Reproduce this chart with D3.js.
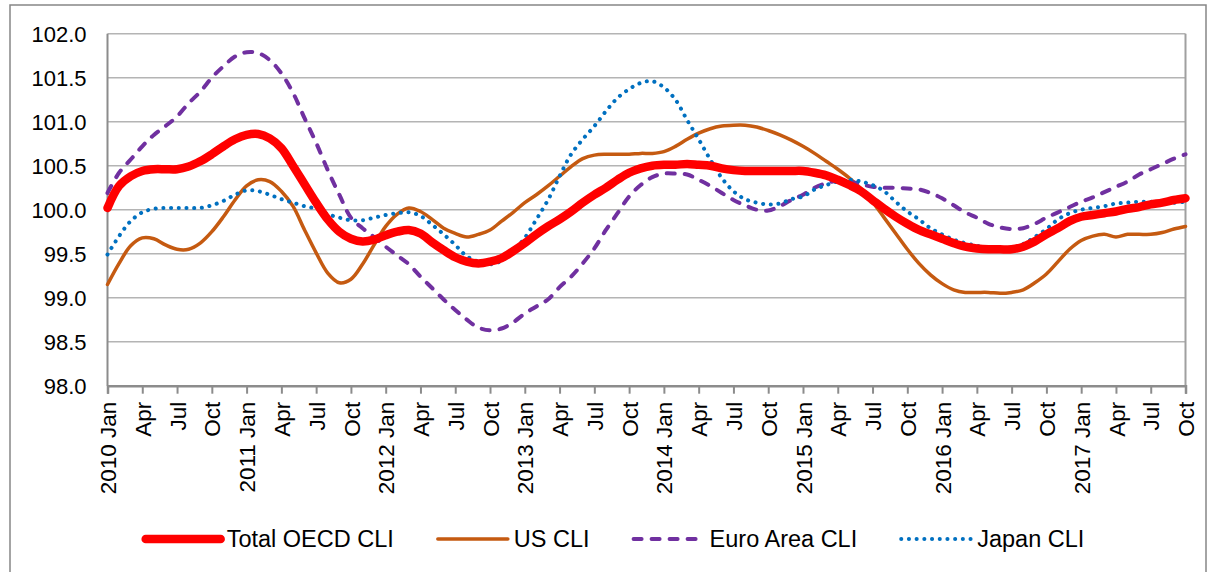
<!DOCTYPE html>
<html><head><meta charset="utf-8">
<script src="https://cdn.jsdelivr.net/npm/d3@7"></script>
<style>
html,body{margin:0;padding:0;background:#fff;}
svg{display:block;}
text{font-family:"Liberation Sans",Arial,sans-serif;fill:#000;}
</style></head>
<body><svg id="chart" width="1208" height="572"></svg>
<script>
// ---- data ----
const startYear = 2010;
const monthNames = ["Jan","Feb","Mar","Apr","May","Jun","Jul","Aug","Sep","Oct","Nov","Dec"];
const categories = [];
for (let i = 0; i < 94; i++) categories.push((startYear + Math.floor(i / 12)) + " " + monthNames[i % 12]);

const oecd = [100.02,100.27,100.38,100.44,100.46,100.46,100.46,100.49,100.55,100.63,100.72,100.80,
100.85,100.86,100.81,100.70,100.50,100.29,100.08,99.89,99.75,99.67,99.64,99.66,
99.71,99.75,99.77,99.73,99.63,99.54,99.46,99.41,99.39,99.41,99.45,99.53,
99.62,99.72,99.81,99.89,99.98,100.08,100.17,100.25,100.34,100.42,100.47,100.50,
100.51,100.51,100.52,100.51,100.50,100.47,100.45,100.44,100.44,100.44,100.44,100.44,
100.44,100.42,100.39,100.34,100.28,100.21,100.11,100.01,99.92,99.84,99.77,99.72,
99.67,99.62,99.58,99.56,99.55,99.55,99.55,99.58,99.64,99.72,99.79,99.87,
99.92,99.94,99.96,99.98,100.01,100.03,100.06,100.08,100.11,100.13];

const us = [99.15,99.39,99.59,99.68,99.67,99.60,99.55,99.55,99.62,99.75,99.92,100.11,
100.27,100.34,100.32,100.21,100.04,99.77,99.51,99.28,99.17,99.21,99.38,99.60,
99.81,99.95,100.02,99.98,99.89,99.79,99.73,99.69,99.72,99.77,99.87,99.97,
100.08,100.17,100.27,100.38,100.49,100.58,100.62,100.63,100.63,100.63,100.64,100.64,
100.66,100.72,100.80,100.87,100.92,100.95,100.96,100.96,100.94,100.90,100.85,100.79,
100.72,100.64,100.55,100.46,100.36,100.24,100.09,99.91,99.73,99.55,99.39,99.26,
99.16,99.09,99.06,99.06,99.06,99.05,99.06,99.09,99.17,99.27,99.41,99.55,
99.65,99.70,99.72,99.69,99.72,99.72,99.72,99.74,99.78,99.81];

const euro = [100.19,100.42,100.57,100.72,100.85,100.95,101.06,101.21,101.34,101.50,101.63,101.74,
101.79,101.78,101.70,101.55,101.33,101.04,100.76,100.45,100.17,99.91,99.79,99.69,
99.58,99.48,99.38,99.24,99.11,98.98,98.86,98.75,98.66,98.63,98.65,98.72,
98.82,98.90,98.98,99.12,99.24,99.39,99.56,99.77,99.96,100.15,100.28,100.37,
100.41,100.41,100.40,100.34,100.27,100.19,100.11,100.05,100.00,99.99,100.04,100.11,
100.17,100.25,100.30,100.33,100.32,100.29,100.26,100.25,100.25,100.24,100.23,100.19,
100.13,100.05,99.97,99.91,99.84,99.80,99.78,99.79,99.84,99.91,99.97,100.03,
100.09,100.14,100.20,100.26,100.32,100.40,100.46,100.52,100.58,100.63];

const japan = [99.49,99.70,99.87,99.97,100.01,100.02,100.02,100.02,100.02,100.05,100.10,100.17,
100.22,100.21,100.17,100.12,100.08,100.04,100.01,99.95,99.91,99.88,99.88,99.91,
99.94,99.96,99.97,99.93,99.83,99.72,99.60,99.47,99.41,99.38,99.42,99.53,
99.68,99.89,100.11,100.38,100.63,100.80,100.95,101.12,101.27,101.37,101.44,101.46,
101.39,101.25,101.02,100.80,100.57,100.36,100.21,100.12,100.08,100.06,100.07,100.12,
100.15,100.23,100.28,100.32,100.34,100.32,100.28,100.21,100.09,99.98,99.89,99.79,
99.72,99.66,99.62,99.59,99.56,99.56,99.56,99.61,99.69,99.78,99.89,99.96,
100.00,100.02,100.04,100.07,100.08,100.09,100.09,100.08,100.08,100.09];

const seriesNames = ["Total OECD CLI","US CLI","Euro Area CLI","Japan CLI"];
const yTicks = [98.0,98.5,99.0,99.5,100.0,100.5,101.0,101.5,102.0];

// ---- styles ----
const styles = [
  {color:"#FF0000", width:8.5, dash:null, cap:"round"},
  {color:"#C55A11", width:3.5, dash:null, cap:"round"},
  {color:"#7030A0", width:4, dash:"8,10", cap:"round"},
  {color:"#0070C0", width:4, dash:"0.1,7.6", cap:"round"}
];
const seriesData = [oecd, us, euro, japan];

const svg = d3.select("#chart");
const plot = {left:107.5, right:1185.5, top:33.7, bottom:385.7};

// outer border
svg.append("rect").attr("x",10).attr("y",5).attr("width",1196).attr("height",580)
  .attr("fill","none").attr("stroke","#868686").attr("stroke-width",1.5);

const x = d3.scalePoint().domain(categories).range([plot.left, plot.right]);
const y = d3.scaleLinear().domain([98,102]).range([plot.bottom, plot.top]);

// gridlines
svg.append("g").selectAll("line").data(yTicks).join("line")
  .attr("x1",plot.left).attr("x2",plot.right)
  .attr("y1",d=>y(d)).attr("y2",d=>y(d))
  .attr("stroke","#B4B4B4").attr("stroke-width",1.5);

// plot border left / right
svg.append("line").attr("x1",plot.left).attr("x2",plot.left).attr("y1",plot.top).attr("y2",plot.bottom)
  .attr("stroke","#8C8C8C").attr("stroke-width",2);
svg.append("line").attr("x1",plot.right).attr("x2",plot.right).attr("y1",plot.top).attr("y2",plot.bottom)
  .attr("stroke","#A0A0A0").attr("stroke-width",2);

// y axis labels
const yAxis = d3.axisLeft(y).tickValues(yTicks).tickFormat(d3.format(".1f")).tickSize(0).tickPadding(0);
const gy = svg.append("g").attr("transform",`translate(${plot.left-21},0)`).call(yAxis);
gy.select(".domain").remove();
gy.selectAll("text").attr("font-size","22px").style("font-family","'Liberation Sans',Arial,sans-serif").attr("fill","#000").attr("dy","0.36em");

// x axis
const tickCats = categories.filter((c,i)=> i % 3 === 0);
const tickLabels = tickCats.map(c => c.endsWith("Jan") ? c : c.split(" ")[1]);
const xAxis = d3.axisBottom(x).tickValues(tickCats).tickSize(8).tickFormat((d,i)=>tickLabels[i]);
const gx = svg.append("g").attr("transform",`translate(0,${plot.bottom})`).call(xAxis);
gx.select(".domain").attr("stroke","#8C8C8C").attr("stroke-width",2.5);
gx.selectAll(".tick line").attr("stroke","#8C8C8C").attr("stroke-width",2);
gx.selectAll("text")
  .attr("font-size","22.5px").style("font-family","'Liberation Sans',Arial,sans-serif").attr("fill","#000")
  .attr("text-anchor","end")
  .attr("transform","rotate(-90)")
  .attr("x",-16).attr("y",0).attr("dy","0.36em");

// lines
const line = d3.line().x((d,i)=>x(categories[i])).y(d=>y(d)).curve(d3.curveCatmullRom.alpha(0.5));
const drawOrder = [1,2,3,0];
drawOrder.forEach(k=>{
  const s = styles[k];
  svg.append("path").datum(seriesData[k]).attr("d",line)
    .attr("fill","none").attr("stroke",s.color).attr("stroke-width",s.width)
    .attr("stroke-linecap",s.cap).attr("stroke-linejoin","round")
    .attr("stroke-dasharray",s.dash);
});

// legend
const legY = 539;
const lg = svg.append("g");
const items = [];
seriesNames.forEach((n,k)=>{
  const g = lg.append("g");
  const s = styles[k];
  const len = k===0?75:70;
  g.append("line").attr("x1",0).attr("x2",len).attr("y1",legY).attr("y2",legY)
    .attr("stroke",s.color).attr("stroke-width",s.width).attr("stroke-linecap",s.cap)
    .attr("stroke-dasharray",s.dash);
  const t = g.append("text").attr("x",len+6).attr("y",legY).attr("dy","0.36em")
    .attr("font-size","23.5px").text(n);
  items.push({g, w:len+6+t.node().getComputedTextLength()});
});
const gap = 44;
const total = d3.sum(items,d=>d.w) + gap*(items.length-1);
let cx = 615 - total/2;
items.forEach(it=>{ it.g.attr("transform",`translate(${cx},0)`); cx += it.w + gap; });
</script></body></html>
